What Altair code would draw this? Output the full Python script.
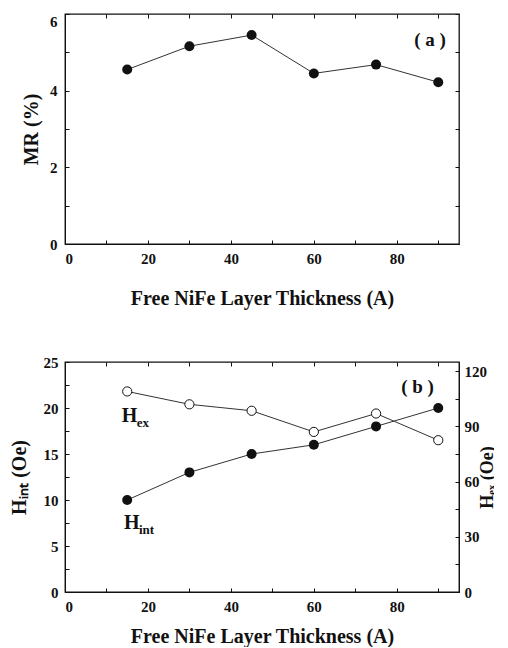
import altair as alt
import pandas as pd

# ---- data ----
thickness = [15, 30, 45, 60, 75, 90]
mr_pct = [4.55, 5.16, 5.45, 4.45, 4.68, 4.22]
h_int = [10.0, 13.0, 15.0, 16.0, 18.0, 20.0]
h_ex = [109.0, 102.0, 98.5, 87.0, 97.0, 82.5]

x_ticks = [0, 10, 20, 30, 40, 50, 60, 70, 80, 90]
mr_ticks = [0, 1, 2, 3, 4, 5, 6]
hint_ticks = [0, 2.5, 5, 7.5, 10, 12.5, 15, 17.5, 20, 22.5, 25]
hex_ticks = [0, 15, 30, 45, 60, 75, 90, 105, 120]

panel_a_label = ["( a )"]
panel_b_label = ["( b )"]
series_labels = ["H", "H"]
series_subs = ["ex", "int"]
series_label_x = [13.7, 14.2]
series_label_y = [19.1, 7.5]

FONT = "Liberation Serif"
X_TITLE = "Free NiFe Layer Thickness (A)"
INK = "#111111"

dfa = pd.DataFrame({"t": thickness, "mr": mr_pct})
dfb = pd.DataFrame({"t": thickness, "hint": h_int, "hex": h_ex})
df_la = pd.DataFrame({"lab": panel_a_label, "x": [88.0], "y": [5.33]})
df_lb = pd.DataFrame({"lab": panel_b_label, "x": [85.0], "y": [22.3]})
df_series = pd.DataFrame({"lab": series_labels, "sub": series_subs,
                          "x": series_label_x, "y": series_label_y})

W, H = 394, 230
xscale = alt.Scale(domain=[0, 95], nice=False)
TICK_IN = {"expr": "-4"}

common_axis = dict(labelFont=FONT, labelFontWeight="bold", labelFontSize=15,
                   labelColor=INK, titleFont=FONT, titleFontWeight="bold",
                   titleFontSize=20, titleColor=INK, grid=False,
                   domainColor=INK, tickColor=INK, tickSize=TICK_IN)
right_axis_style = dict(common_axis, titleFontSize=18)


def x_bottom(title_pad):
    return alt.Axis(values=x_ticks, title=X_TITLE,
                    labelExpr="datum.value % 20 === 0 ? datum.label : ''",
                    labelPadding=11, titlePadding=title_pad, **common_axis)


x_top = alt.Axis(orient="top", values=x_ticks, labels=False, title=None,
                 domain=False, tickColor=INK, tickSize=TICK_IN, grid=False)

# ---------------- panel (a) ----------------
ya_scale = alt.Scale(domain=[0, 6], nice=False)
a_line = alt.Chart(dfa).mark_line(color="#333333", strokeWidth=1).encode(
    x=alt.X("t:Q", scale=xscale, axis=x_bottom(22)),
    y=alt.Y("mr:Q", scale=ya_scale,
            axis=alt.Axis(values=mr_ticks, title="MR (%)",
                          labelExpr="datum.value % 2 === 0 ? datum.label : ''",
                          labelBaseline={"condition": {"test": "datum.value === 6",
                                                       "value": "top"},
                                         "value": "middle"},
                          labelPadding=12, titlePadding=8, **common_axis)),
)
a_pts = alt.Chart(dfa).mark_point(filled=True, size=100, color=INK, opacity=1).encode(
    x=alt.X("t:Q", scale=xscale, axis=None),
    y=alt.Y("mr:Q", scale=ya_scale, axis=None),
)
a_mirror = alt.Chart(dfa).mark_point(opacity=0).encode(
    x=alt.X("t:Q", scale=xscale, axis=x_top),
    y=alt.Y("mr:Q", scale=ya_scale,
            axis=alt.Axis(orient="right", values=mr_ticks, labels=False, title=None,
                          domain=False, tickColor=INK, tickSize=TICK_IN, grid=False)),
)
a_label = alt.Chart(df_la).mark_text(font=FONT, fontWeight="bold", fontSize=19,
                                     color=INK).encode(
    x=alt.X("x:Q", scale=xscale, axis=None),
    y=alt.Y("y:Q", scale=ya_scale, axis=None),
    text="lab:N",
)
panel_a = alt.layer(a_line, a_pts, a_mirror, a_label).resolve_axis(
    x="independent", y="independent").properties(width=W, height=H)

# ---------------- panel (b) ----------------
yl_scale = alt.Scale(domain=[0, 25], nice=False)
yr_scale = alt.Scale(domain=[0, 125], nice=False)

b_int_line = alt.Chart(dfb).mark_line(color="#333333", strokeWidth=1).encode(
    x=alt.X("t:Q", scale=xscale, axis=x_bottom(12)),
    y=alt.Y("hint:Q", scale=yl_scale,
            axis=alt.Axis(values=hint_ticks, title="Hᵢₙₜ (Oe)",
                          labelExpr="datum.value % 5 === 0 ? datum.label : ''",
                          labelPadding=11, titlePadding=14, **common_axis)),
)
b_int_pts = alt.Chart(dfb).mark_point(filled=True, size=100, color=INK, opacity=1).encode(
    x=alt.X("t:Q", scale=xscale, axis=None),
    y=alt.Y("hint:Q", scale=yl_scale, axis=None),
)
b_mirror = alt.Chart(dfb).mark_point(opacity=0).encode(
    x=alt.X("t:Q", scale=xscale, axis=x_top),
    y=alt.Y("hint:Q", scale=yl_scale, axis=None),
)
b_label = alt.Chart(df_lb).mark_text(font=FONT, fontWeight="bold", fontSize=19,
                                     color=INK).encode(
    x=alt.X("x:Q", scale=xscale, axis=None),
    y=alt.Y("y:Q", scale=yl_scale, axis=None),
    text="lab:N",
)
s_main = alt.Chart(df_series).mark_text(font=FONT, fontWeight="bold", fontSize=20,
                                        color=INK, align="left", baseline="middle").encode(
    x=alt.X("x:Q", scale=xscale, axis=None),
    y=alt.Y("y:Q", scale=yl_scale, axis=None),
    text="lab:N",
)
s_sub = alt.Chart(df_series).mark_text(font=FONT, fontWeight="bold", fontSize=13,
                                       color=INK, align="left", baseline="middle",
                                       dx=15, dy=7).encode(
    x=alt.X("x:Q", scale=xscale, axis=None),
    y=alt.Y("y:Q", scale=yl_scale, axis=None),
    text="sub:N",
)
left_layer = alt.layer(b_int_line, b_int_pts, b_mirror, b_label, s_main, s_sub).resolve_axis(
    x="independent", y="independent")

b_ex_line = alt.Chart(dfb).mark_line(color="#333333", strokeWidth=1).encode(
    x=alt.X("t:Q", scale=xscale, axis=None),
    y=alt.Y("hex:Q", scale=yr_scale,
            axis=alt.Axis(orient="right", values=hex_ticks, title="Hₑₓ (Oe)",
                          titleAngle=270,
                          labelExpr="datum.value % 30 === 0 ? datum.label : ''",
                          labelPadding=9, titlePadding=10, **right_axis_style)),
)
b_ex_pts = alt.Chart(dfb).mark_point(filled=True, size=85, color="white",
                                     stroke=INK, strokeWidth=1, opacity=1).encode(
    x=alt.X("t:Q", scale=xscale, axis=None),
    y=alt.Y("hex:Q", scale=yr_scale, axis=None),
)
right_layer = alt.layer(b_ex_line, b_ex_pts).resolve_axis(x="independent", y="independent")

panel_b = alt.layer(left_layer, right_layer).resolve_scale(
    y="independent").resolve_axis(x="independent", y="independent").properties(
    width=W, height=H)

chart = alt.vconcat(panel_a, panel_b, spacing=45).properties(
    padding={"top": 4, "left": 0, "right": -4, "bottom": 0},
    background="white",
).configure_view(stroke=INK, strokeWidth=1.3)

chart.save("out.html", embed_options={"renderer": "svg", "actions": False})
